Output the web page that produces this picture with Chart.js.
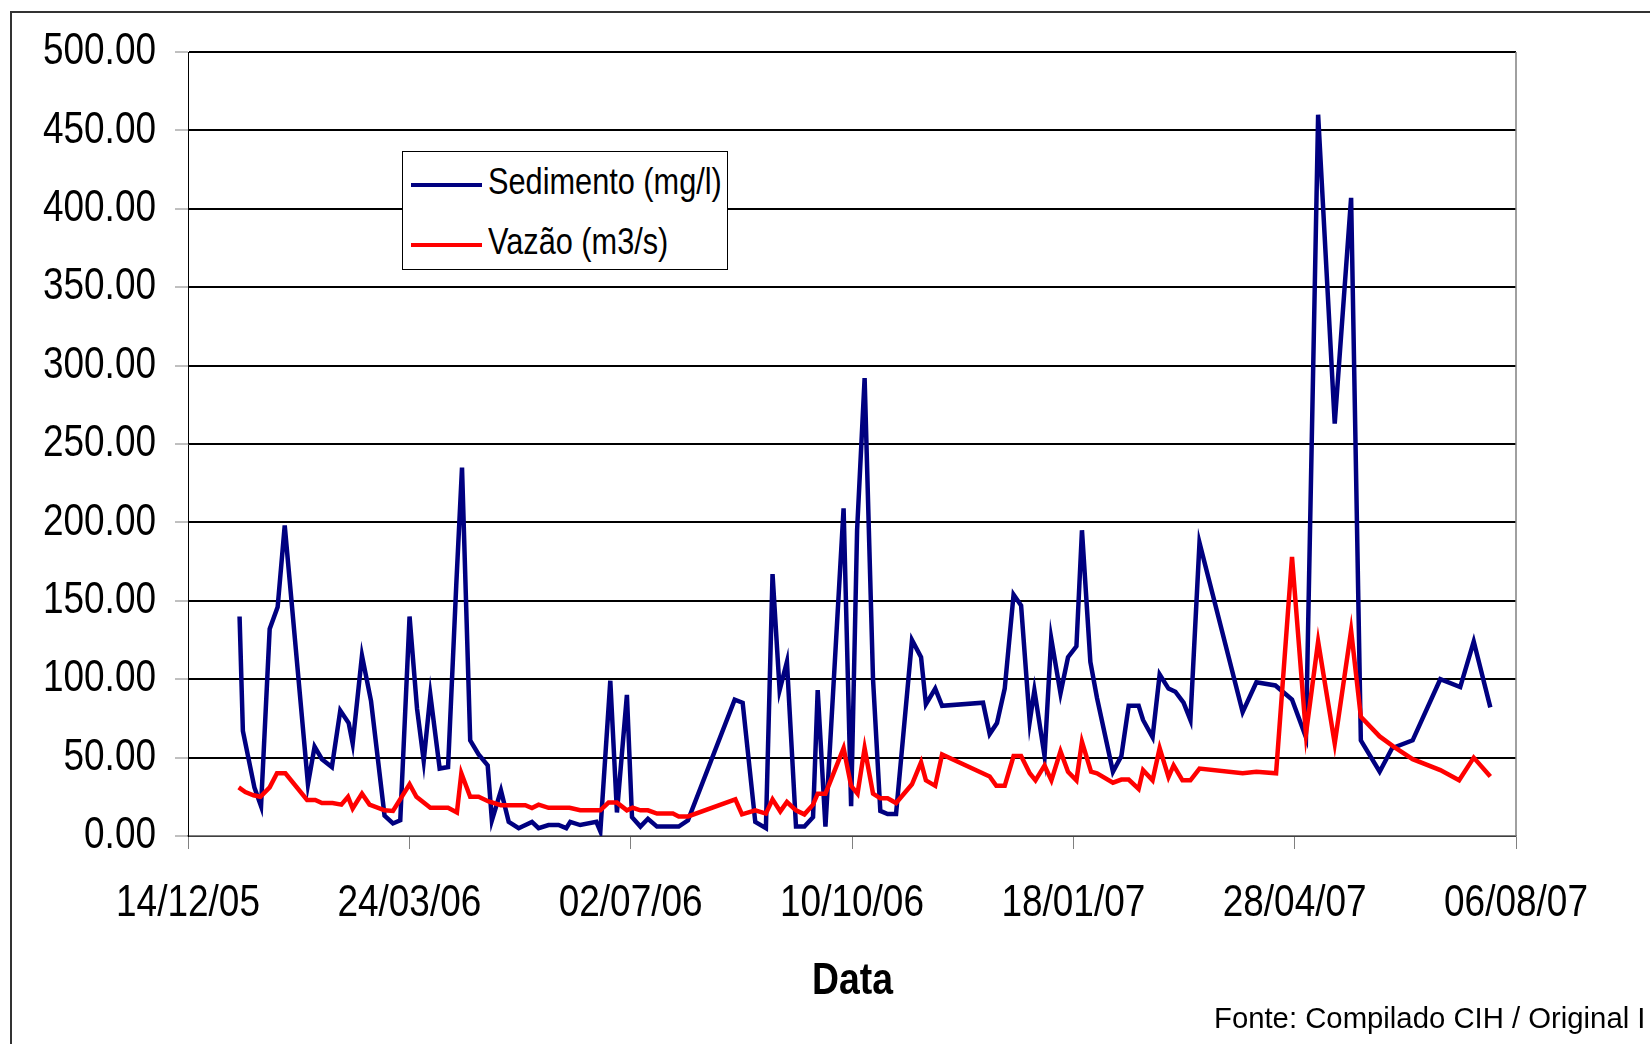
<!DOCTYPE html>
<html>
  <head>
    <script src="https://cdn.jsdelivr.net/npm/chart.js"></script>
    <style>
      body { margin: 0; width: 1650px; height: 1044px; overflow: hidden; background: #fff; position: relative; font-family: "Liberation Sans", Arial, sans-serif; }
      #frame { position: absolute; left: 10px; top: 11px; width: 2000px; height: 2000px; border: 2px solid #333; }
      #chart { position: absolute; left: 0; top: 0; }
      .narrow { display: inline-block; transform: scaleX(0.83); transform-origin: 0 0; white-space: nowrap; }
      #legend { position: absolute; left: 402px; top: 151px; width: 324px; height: 117px; border: 1px solid #000; background: #fff; }
      #legend .row { position: absolute; left: 0; height: 40px; width: 320px; }
      #legend .sw { position: absolute; left: 8px; top: 18px; width: 71px; height: 4px; }
      #legend .tx { position: absolute; left: 85px; top: -3px; font-size: 37px; line-height: 40px; color: #000; }
      #xtitle { position: absolute; left: 812px; top: 952px; font-weight: bold; font-size: 45px; line-height: 54px; }
      #fonte { position: absolute; left: 1214px; top: 1001px; font-size: 29.3px; line-height: 34px; white-space: nowrap; }
    </style>
  </head>

  <body>
    <div id="frame"></div>
    <canvas id="chart" width="1650" height="1044"></canvas>
    <div id="legend">
      <div class="row" style="top: 13px"><div class="sw" style="background: #000080"></div><div class="tx narrow">Sedimento (mg/l)</div></div>
      <div class="row" style="top: 73px"><div class="sw" style="background: #ff0000"></div><div class="tx narrow">Vazão (m3/s)</div></div>
    </div>
    <div id="xtitle" class="narrow">Data</div>
    <div id="fonte">Fonte: Compilado CIH / Original I</div>
  </body>

  <script>
    // days counted from 14/12/05
    var tick_labels = ["14/12/05", "24/03/06", "02/07/06", "10/10/06", "18/01/07", "28/04/07", "06/08/07"];

    var sed_days = [23.3, 24.8, 30, 33, 36.9, 40.5, 43.7, 54.2, 57.2, 60.5, 65, 68.8, 72.6, 74.4, 78.6, 82.7, 88.8, 92.6, 95.9,
      100.1, 103.5, 106.5, 109.5, 113.7, 117.5, 121.2, 123.8, 127.5, 131.3, 135.4, 137.3, 141.4, 144.9, 149.4, 155.4, 158.4,
      162.9, 167.4, 170.9, 172.7, 177.2, 184.5, 186.3, 190.8, 193.8, 198.3, 200.6, 204.4, 207.8, 211.9, 221.7, 225.9, 247,
      250.6, 256.3, 261.1, 264.1, 267.3, 270.6, 274.7, 278.5, 282.4, 284.5, 288, 296.2, 299.6, 302.3, 305.7, 309.5, 312.8,
      316.1, 319.9, 327.1, 331.2, 333.4, 337.6, 340.7, 359.2, 362.2, 365.5, 369, 373, 376.4, 380.3, 382.4, 387, 390, 394.2,
      397.6, 401.4, 403.9, 407.7, 410.7, 417.9, 421.7, 425, 429.5, 431.5, 435.8, 439, 443, 446.1, 449.8, 452.9, 457, 476.5,
      482.7, 491.3, 498.8, 505.1, 510.6, 518.1, 525.5, 529.9, 538.4, 544, 553.3, 565.8, 574.8, 580.9, 588.4];
    var sed_values = [140, 67, 31, 19, 132, 146, 198, 33, 57, 49, 44, 80, 72, 59, 115, 86, 13, 8, 10,
      140, 81, 48, 90, 43, 44, 160, 235, 61, 52, 45, 10, 29, 9, 5, 9, 5,
      7, 7, 5, 9, 7, 9, 3, 99, 15, 90, 12, 6, 11, 6, 6, 10, 87,
      85, 9, 5, 167, 93, 111, 6, 6, 12, 93, 6, 209, 19, 195, 292, 100, 16,
      14, 14, 125, 114, 84, 94, 83, 85, 65, 72, 94, 154, 147, 73, 93, 51, 126, 91,
      114, 121, 195, 111, 88, 41, 51, 83, 83, 74, 63, 103, 94, 92, 85, 74, 187, 79,
      98, 96, 87, 63, 460, 263, 407, 61, 41, 56, 61, 100, 95, 124, 82];

    var vaz_days = [22.9, 25.9, 29.6, 32.7, 36.9, 40.2, 44, 53.8, 57.5, 60.5, 65.3, 69.3, 72.3, 74.4, 78.6, 82, 88.8, 92.6,
      100.1, 103.2, 109.5, 117.5, 121.5, 123.5, 127.5, 131.3, 135.8, 141.4, 152.4, 155.4, 158.4, 162.9, 172.4, 177.2, 186.3,
      190, 193.8, 198.3, 200.9, 204.4, 207.8, 211.9, 219.1, 221.7, 225.9, 247.3, 250.3, 256.3, 261.1, 264.1, 267.6, 270.6,
      274.7, 278.5, 282.4, 284.5, 288, 296.2, 299.6, 302.5, 305.7, 309.5, 312.8, 316.1, 319.9, 327.1, 331.2, 333.4, 337.6,
      340.7, 362.2, 365.2, 369, 373, 376.4, 380.3, 382.9, 387, 390.1, 394.2, 397.6, 401.4, 403.9, 408, 410.7, 417.9, 421.7,
      425, 429.5, 431.5, 435.8, 439, 443, 445.3, 449.3, 452.9, 457, 476.5, 482.7, 491.6, 498.8, 505.1, 510.6, 518.1, 525.5,
      529.9, 538.4, 544.7, 553.3, 565.8, 574.3, 580.9, 588.4];
    var vaz_values = [31, 28, 26, 25, 31, 40, 40, 23, 23, 21, 21, 20, 25, 17.5, 27, 20, 16.4, 16,
      33, 25, 18, 18, 15, 40, 25, 25, 22, 19.6, 19.6, 17.8, 20, 18, 18, 16.4, 16.4,
      21.3, 21.3, 16.4, 18, 16.4, 16.4, 14.3, 14.3, 12.5, 12.5, 23.4, 13.8, 16.4, 14.3, 23.4, 15.7, 21.7,
      16.4, 13.8, 20, 27, 27, 56, 32, 27, 56, 27, 24, 24, 21, 33, 47, 35.5, 32,
      52, 38, 32, 32, 51, 51, 40, 35.5, 45, 35.5, 54, 41, 35.5, 60, 41, 40, 34, 36,
      36, 30, 42, 35.5, 56, 37.6, 45, 35.5, 35.5, 43, 40, 41, 40, 178, 65, 124, 59, 131,
      76, 63.5, 57, 49, 42, 35.5, 50, 38];

    function pts(days, vals) {
      return days.map(function (d, i) { return { x: d, y: vals[i] }; });
    }

    // grey right edge of the plot area
    var plotEdge = {
      id: "plotEdge",
      afterDraw: function (chart) {
        var a = chart.chartArea;
        var c = chart.ctx;
        c.save();
        c.strokeStyle = "#808080";
        c.lineWidth = 1.5;
        c.beginPath();
        c.moveTo(a.right, a.top);
        c.lineTo(a.right, a.bottom);
        c.stroke();
        c.restore();
      },
    };

    const ctx = document.getElementById("chart").getContext("2d");
    // the original uses a narrow font: squeeze canvas text sideways around its anchor
    var plainFillText = ctx.fillText;
    ctx.fillText = function (t, x, y) {
      this.save();
      this.translate(x, y);
      this.scale(0.84, 1);
      plainFillText.call(this, t, 0, 0);
      this.restore();
    };

    const chart = new Chart(ctx, {
      type: "line",
      data: {
        datasets: [
          {
            label: "Sedimento (mg/l)",
            data: pts(sed_days, sed_values),
            borderColor: "#000080",
            backgroundColor: "#000080",
            borderWidth: 4.5,
            pointRadius: 0,
            fill: false,
            order: 1,
          },
          {
            label: "Vazão (m3/s)",
            data: pts(vaz_days, vaz_values),
            borderColor: "#ff0000",
            backgroundColor: "#ff0000",
            borderWidth: 4.5,
            pointRadius: 0,
            fill: false,
            order: 0,
          },
        ],
      },
      options: {
        responsive: false,
        animation: false,
        layout: { padding: { top: 52, right: 134, left: 0, bottom: 0 } },
        plugins: { legend: { display: false }, tooltip: { enabled: false } },
        scales: {
          x: {
            type: "linear",
            min: 0,
            max: 600,
            afterFit: function (s) { s.height = 208; },
            ticks: {
              stepSize: 100,
              autoSkip: false,
              maxRotation: 0,
              padding: 28,
              color: "#000",
              font: { family: '"Liberation Sans", Arial, sans-serif', size: 44 },
              callback: function (v) { return tick_labels[Math.round(v / 100)]; },
            },
            grid: { drawOnChartArea: false, tickLength: 13, tickColor: "#808080" },
            border: { color: "#808080", width: 1.5 },
          },
          y: {
            min: 0,
            max: 500,
            afterFit: function (s) { s.width = 188; },
            ticks: {
              stepSize: 50,
              padding: 19,
              color: "#000",
              font: { family: '"Liberation Sans", Arial, sans-serif', size: 44 },
              callback: function (v) { return v.toFixed(2); },
            },
            grid: { color: "#000", lineWidth: 2, tickLength: 13, tickColor: "#808080", tickWidth: 1 },
            border: { color: "#000", width: 1 },
          },
        },
      },
      plugins: [plotEdge],
    });
  </script>
</html>
